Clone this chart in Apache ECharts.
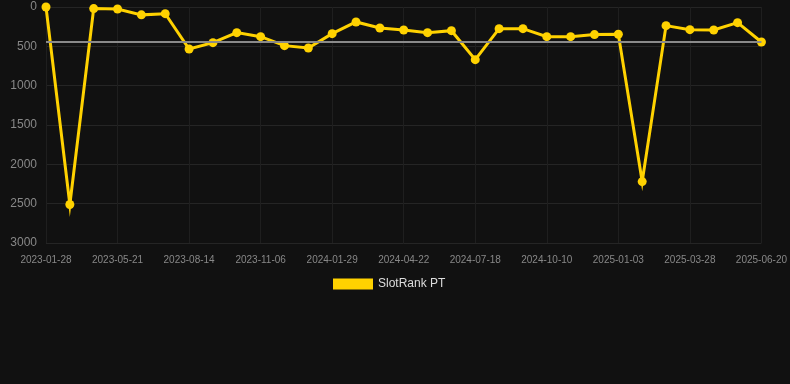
<!DOCTYPE html>
<html>
<head>
<meta charset="utf-8">
<script src="https://cdn.jsdelivr.net/npm/echarts@6/dist/echarts.min.js"></script>
<style>
html,body{margin:0;padding:0;background:#111111;}
#chart{width:790px;height:384px;}
</style>
</head>
<body>
<div id="chart"></div>
<script>
var categories = ['2023-01-28','2023-03-07','2023-04-14','2023-05-21','2023-06-18','2023-07-17','2023-08-14','2023-09-11','2023-10-09','2023-11-06','2023-12-04','2024-01-01','2024-01-29','2024-02-26','2024-03-25','2024-04-22','2024-05-20','2024-06-19','2024-07-18','2024-08-15','2024-09-12','2024-10-10','2024-11-07','2024-12-06','2025-01-03','2025-01-31','2025-02-28','2025-03-28','2025-04-25','2025-05-23','2025-06-20'];
var rankValues = [0,2510,20,25,100,85,534,453,326,377,491,521,339,190,267,292,326,301,669,275,275,377,377,351,347,2219,237,288,292,199,445];
var seriesName = 'SlotRank PT';
var yTicks = {min:0, max:3000, interval:500};

var chart = echarts.init(document.getElementById('chart'), null, {renderer:'canvas'});
chart.setOption({
  backgroundColor:'#111111',
  animation:false,
  grid:{left:46, right:28, top:7, bottom:141, containLabel:false},
  legend:{
    data:[seriesName], top:273, left:328,
    itemWidth:40, itemHeight:11, itemGap:10,
    textStyle:{color:'#dddddd', fontSize:12, fontFamily:'Arial, Liberation Sans, sans-serif'},
    icon:'rect'
  },
  xAxis:{
    type:'category', data:categories, boundaryGap:false,
    axisLine:{show:false}, axisTick:{show:false},
    axisLabel:{color:'#888888', fontSize:10, interval:2, margin:12, fontFamily:'Arial, Liberation Sans, sans-serif'},
    splitLine:{show:true, interval:2, lineStyle:{color:'#1f1f1f', width:1}}
  },
  yAxis:{
    type:'value', inverse:true, min:yTicks.min, max:yTicks.max, interval:yTicks.interval,
    axisLine:{show:false}, axisTick:{show:false},
    axisLabel:{color:'#888888', fontSize:12, margin:9, fontFamily:'Arial, Liberation Sans, sans-serif',
      formatter:function(v){return String(v);}},
    splitLine:{show:true, lineStyle:{color:'#252525', width:1}}
  },
  series:[{
    name:seriesName, type:'line', data:rankValues,
    symbol:'circle', symbolSize:9,
    itemStyle:{color:'#FFD200'},
    lineStyle:{color:'#FFD200', width:3, join:'miter', miterLimit:10},
    markLine:{
      silent:true, symbol:'none',
      label:{show:false},
      lineStyle:{color:'#8a8a8a', type:'solid', width:2},
      data:[{type:'average'}]
    }
  }]
});
</script>
</body>
</html>
